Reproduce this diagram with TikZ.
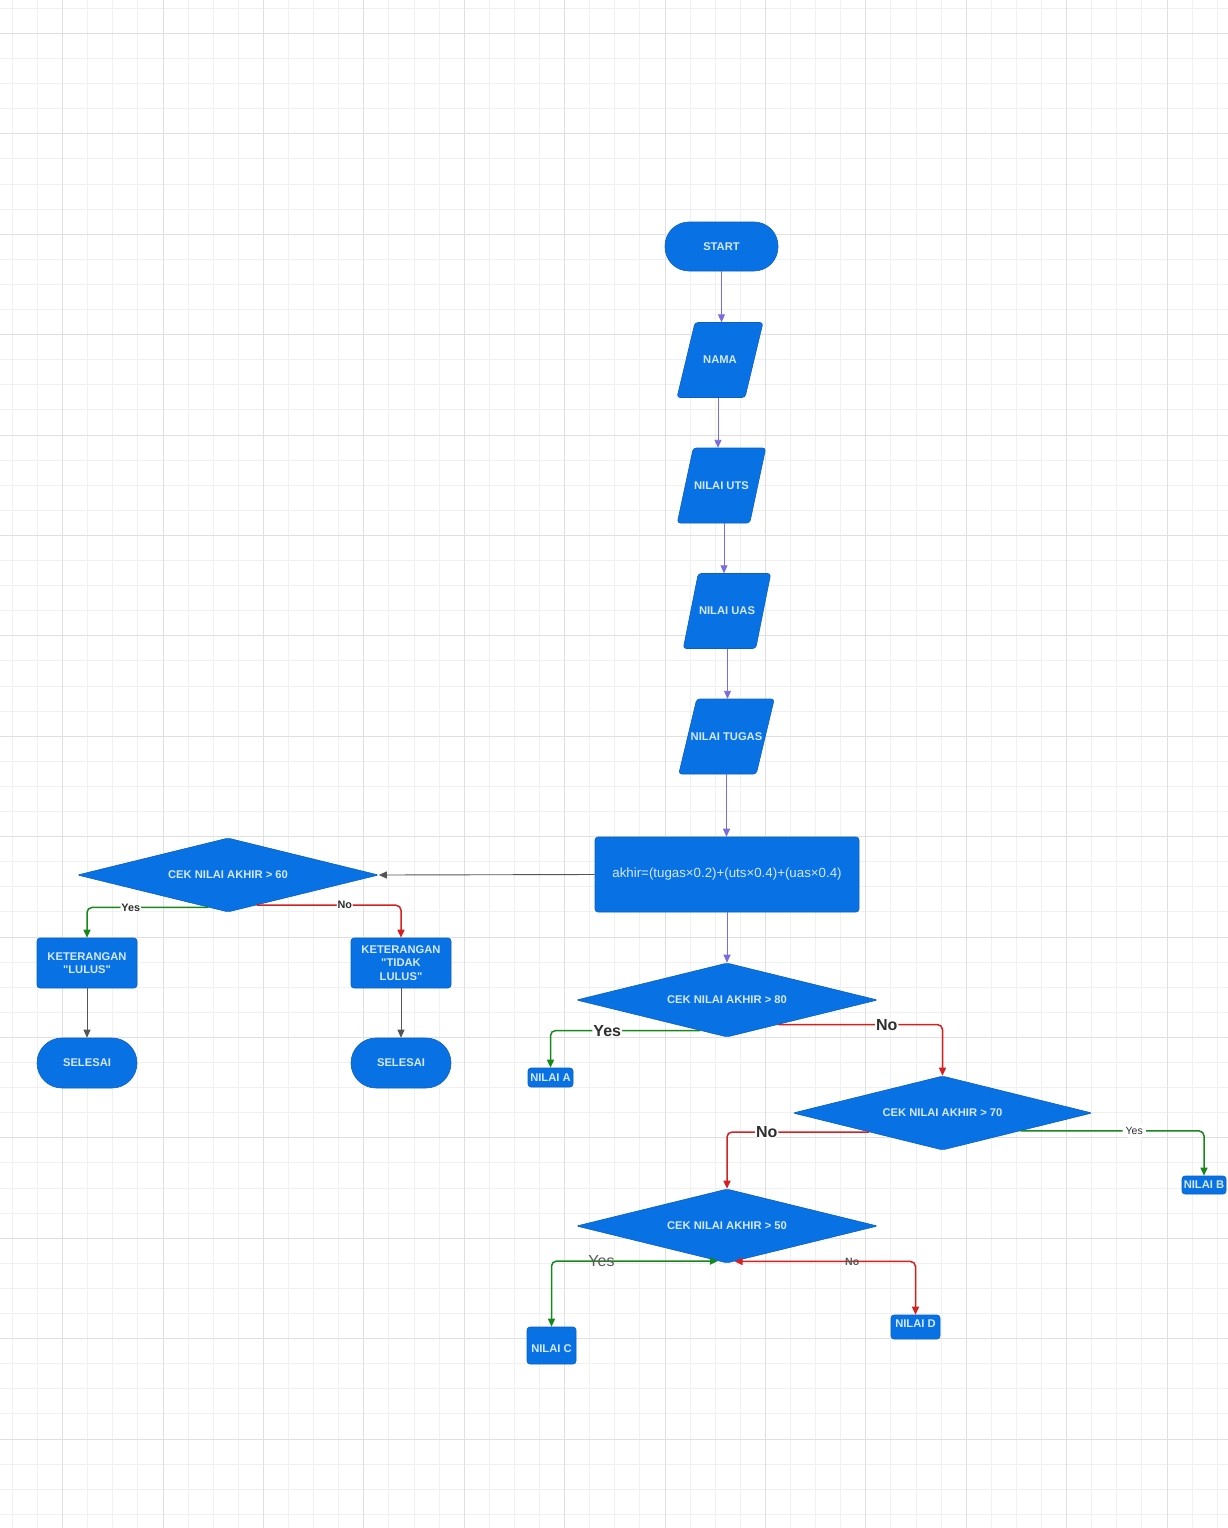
\documentclass[tikz,border=0pt]{standalone}
\usepackage{fontspec}
\setmainfont{Liberation Sans}[Ligatures=TeXOff]
\usetikzlibrary{shapes.geometric,arrows.meta,calc}

\definecolor{boxblue}{HTML}{0872E4}
\definecolor{boxedge}{HTML}{0A5FC0}
\definecolor{boxtext}{HTML}{D4E8FF}
\definecolor{flowpurple}{HTML}{7B6BE0}
\definecolor{flowgray}{HTML}{555555}
\definecolor{flowgreen}{HTML}{17891A}
\definecolor{flowred}{HTML}{D61F1F}
\definecolor{gridminor}{HTML}{F0F0F0}
\definecolor{gridmajor}{HTML}{E0E0E0}
\definecolor{labeldark}{HTML}{2E2E2E}
\definecolor{labelgray}{HTML}{5A5A5A}

% input/output parallelogram: name, centre x, centre y, edge width, slant, text
\newcommand\iobox[6]{%
  \pgfmathsetmacro\iohalf{(#4+#5)/2}%
  \filldraw[ioshape] ({#2-\iohalf},{#3+37.5}) -- ({#2-\iohalf+#4},{#3+37.5})
    -- ({#2+\iohalf},{#3-37.5}) -- ({#2+\iohalf-#4},{#3-37.5}) -- cycle;
  \node[iotext] (#1) at (#2,#3) {#6};
}

\begin{document}
\begin{tikzpicture}[x=1pt, y=-1pt,
  >={Triangle[length=8pt,width=7pt]},
  box/.style={fill=boxblue, draw=boxedge, line width=0.6pt, text=boxtext,
    font=\fontsize{11.2}{13.5}\selectfont\bfseries, align=center,
    inner sep=1pt, rounded corners=3pt},
  term/.style={box, rounded corners=24pt, minimum width=113pt, minimum height=49pt},
  endterm/.style={box, rounded corners=25pt, minimum width=100pt, minimum height=50pt},
  process/.style={box, minimum width=264pt, minimum height=75pt,
    font=\fontsize{13.3}{16}\selectfont},
  notebox/.style={box, minimum width=100pt, minimum height=50pt},
  gradebox/.style={box, inner sep=1pt},
  gradetext/.style={text=boxtext, font=\fontsize{11.2}{13.5}\selectfont\bfseries,
    inner sep=0pt},
  decision/.style={box, diamond, aspect=4, minimum width=301pt,
    minimum height=74pt, inner sep=0pt, rounded corners=2pt},
  ioshape/.style={fill=boxblue, draw=boxedge, line width=0.6pt, rounded corners=3pt},
  iotext/.style={rectangle, minimum width=50pt, minimum height=75pt, inner sep=0pt,
    text=boxtext, font=\fontsize{11.2}{13.5}\selectfont\bfseries},
  mainflow/.style={->, draw=flowpurple, line width=0.9pt},
  grayflow/.style={->, draw=flowgray, line width=0.9pt},
  yesflow/.style={->, draw=flowgreen, line width=1.5pt, rounded corners=5pt},
  noflow/.style={->, draw=flowred, line width=1.5pt, rounded corners=5pt},
  lblsmall/.style={fill=white, inner sep=1pt, text=labeldark,
    font=\fontsize{10.8}{12}\selectfont\bfseries},
  lblbig/.style={fill=white, inner sep=1pt, text=labeldark,
    font=\fontsize{16}{18}\selectfont\bfseries},
  lblthin/.style={fill=white, inner sep=3pt, text=labeldark,
    font=\fontsize{10.5}{12}\selectfont},
  lblgraybig/.style={inner sep=1pt, text=labelgray,
    font=\fontsize{16}{18}\selectfont},
  lblgraysmall/.style={inner sep=1pt, text=labelgray,
    font=\fontsize{10.6}{12}\selectfont\bfseries}
]
\useasboundingbox (0,0) rectangle (1228,1528);
\fill[white] (0,0) rectangle (1228,1528);

% background grid
\foreach \i in {0,...,48}
  \draw[gridminor, line width=0.7pt] ({12.3+25.1*\i},0) -- ++(0,1528);
\foreach \j in {0,...,60}
  \draw[gridminor, line width=0.7pt] (0,{8.2+25.1*\j}) -- ++(1228,0);
\foreach \i in {0,...,11}
  \draw[gridmajor, line width=0.8pt] ({62.5+100.4*\i},0) -- ++(0,1528);
\foreach \j in {0,...,14}
  \draw[gridmajor, line width=0.8pt] (0,{33.3+100.4*\j}) -- ++(1228,0);

% main column
\node[term] (start) at (721.5,246.5) {START};
\iobox{nama}{720}{360}{68}{18}{NAMA}
\iobox{uts}{721.5}{485.5}{72.5}{16}{NILAI UTS}
\iobox{uas}{727}{611}{72.5}{15}{NILAI UAS}
\iobox{tugas}{726.5}{736.5}{77.5}{18}{NILAI TUGAS}
\node[process] (proc) at (727,874.5) {akhir=(tugas×0.2)+(uts×0.4)+(uas×0.4)};

% decisions
\node[decision] (d60) at (228,875) {CEK NILAI AKHIR > 60};
\node[decision] (d80) at (727,1000) {CEK NILAI AKHIR > 80};
\node[decision, minimum width=299pt] (d70) at (942.5,1113) {CEK NILAI AKHIR > 70};
\node[decision] (d50) at (727,1226) {CEK NILAI AKHIR > 50};

% pass / fail branch
\node[notebox] (lulus) at (87,963) {KETERANGAN\\"LULUS"};
\node[notebox] (tidak) at (401,963) {KETERANGAN\\"TIDAK\\LULUS"};
\node[endterm] (end1) at (87,1063) {SELESAI};
\node[endterm] (end2) at (401,1063) {SELESAI};

% grades
\node[gradebox, minimum width=45pt, minimum height=19pt] (na) at (550.5,1077.5) {NILAI A};
\node[gradebox, minimum width=44pt, minimum height=18pt] (nb) at (1204,1185) {NILAI B};
\node[gradebox, minimum width=49pt, minimum height=37pt,
  label={[gradetext, yshift=-3pt]center:NILAI C}] (nc) at (551.5,1345.5) {};
\node[gradebox, minimum width=49pt, minimum height=24pt,
  label={[gradetext, yshift=3pt]center:NILAI D}] (nd) at (915.5,1327) {};

% input chain
\coordinate (namaout) at ([xshift=-2pt]nama.south);
\coordinate (utsout) at ([xshift=2.5pt]uts.south);
\coordinate (uasout) at ([xshift=0.5pt]uas.south);
\draw[mainflow] (start.south) -- (start.south |- nama.north);
\draw[mainflow] (namaout) -- (namaout |- uts.north);
\draw[mainflow] (utsout) -- (utsout |- uas.north);
\draw[mainflow] (uasout) -- (uasout |- tugas.north);
\draw[mainflow] (tugas.south) -- (tugas.south |- proc.north);
\draw[mainflow] (proc.south) -- (d80.north);
\draw[grayflow] (proc.west) -- (d60.east);

% final mark > 60
\coordinate (y60) at ($(d60.south)!0.13!(d60.west)$);
\coordinate (n60) at ($(d60.south)!0.19!(d60.east)$);
\draw[yesflow] (y60) -| node[pos=0.32, lblsmall] {Yes} (lulus.north);
\draw[noflow] (n60) -| node[pos=0.305, lblsmall] {No} (tidak.north);
\draw[grayflow] (lulus.south) -- (end1.north);
\draw[grayflow] (tidak.south) -- (end2.north);

% final mark > 80
\coordinate (y80) at ($(d80.south)!0.18!(d80.west)$);
\coordinate (n80) at ($(d80.south)!0.34!(d80.east)$);
\draw[yesflow] (y80) -| node[pos=0.31, lblbig] {Yes} (na.north);
\draw[noflow] (n80) -| node[pos=0.33, lblbig] {No} (d70.north);

% final mark > 70
\coordinate (n70) at ($(d70.south)!0.49!(d70.west)$);
\coordinate (y70) at ($(d70.south)!0.52!(d70.east)$);
\draw[noflow] (n70) -| node[pos=0.36, lblbig] {No} (d50.north);
\draw[yesflow] (y70) -| node[pos=0.31, lblthin] {Yes} (nb.north);

% final mark > 50
\coordinate (y50) at ($(d50.south)!0.06!(d50.west)$);
\coordinate (n50) at ($(d50.south)!0.05!(d50.east)$);
\draw[yesflow, <->] (y50) -| node[pos=0.35, lblgraybig] {Yes} (nc.north);
\draw[noflow, <->] (n50) -| node[pos=0.325, lblgraysmall] {No} (nd.north);
\end{tikzpicture}
\end{document}
